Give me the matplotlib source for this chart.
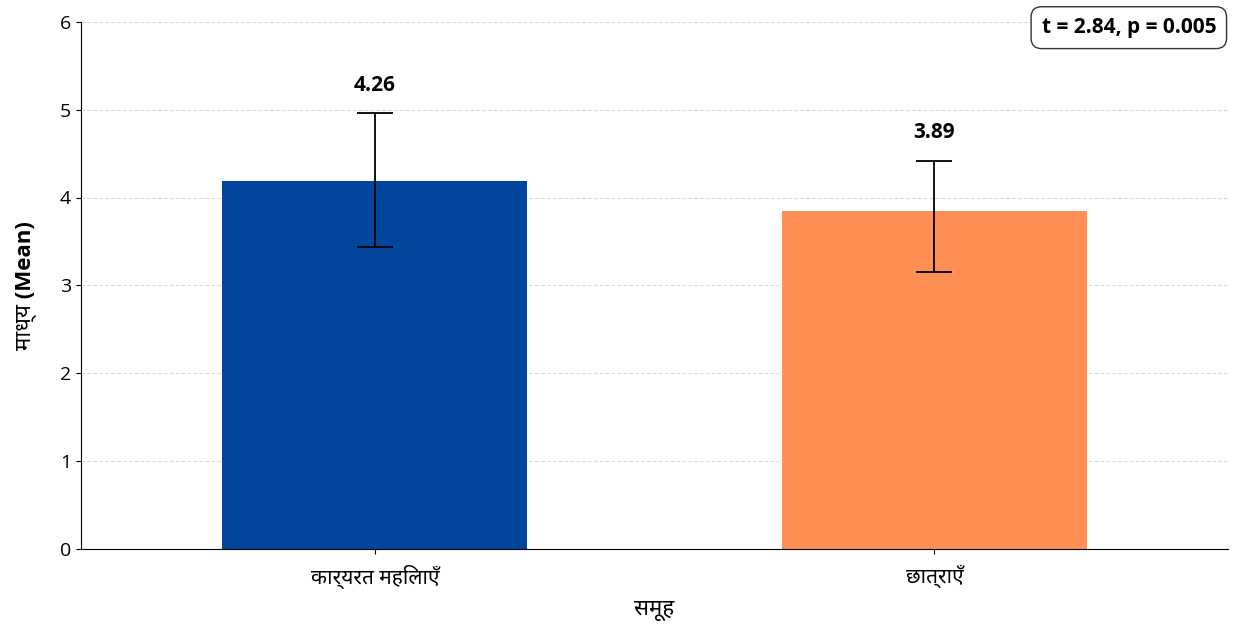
import matplotlib
matplotlib.use("Agg")
import matplotlib.pyplot as plt

plt.rcParams['font.family'] = ['Open Sans', 'Noto Sans', 'DejaVu Sans']

groups = ['कार्यरत महिलाएँ', 'छात्राएँ']
means = [4.19, 3.85]
err_lower = [0.75, 0.70]
err_upper = [0.77, 0.57]
value_labels = ['4.26', '3.89']
colors = ['#02459C', '#FF8F55']
stat_text = 't = 2.84, p = 0.005'

fig, ax = plt.subplots(figsize=(12.4, 6.25), dpi=100)
fig.subplots_adjust(left=0.065, right=0.99, top=0.965, bottom=0.122)

x = list(range(len(groups)))
ax.bar(x, means, width=0.545, color=colors, zorder=2)
ax.errorbar(x, means, yerr=[err_lower, err_upper], fmt='none', ecolor='black',
            elinewidth=1.3, capsize=13, capthick=1.3, zorder=3)
for xi, m, eu, lab in zip(x, means, err_upper, value_labels):
    ax.text(xi, m + eu + 0.2, lab, ha='center', va='bottom', fontsize=15, fontweight='bold')

ax.set_xlim(-0.526, 1.524)
ax.set_ylim(0, 6)
ax.set_xticks(x)
ax.set_xticklabels(groups, fontsize=15)
ax.tick_params(axis='x', pad=8)
ax.tick_params(axis='y', labelsize=14)
ax.set_ylabel('माध्य (Mean)', fontsize=16, fontweight='bold', labelpad=16)
ax.set_xlabel('समूह', fontsize=16, fontweight='bold', labelpad=8)
ax.yaxis.grid(True, linestyle='--', color='#cccccc', alpha=0.7, zorder=0)
ax.set_axisbelow(True)
ax.spines['top'].set_visible(False)
ax.spines['right'].set_visible(False)

ax.text(0.99, 0.989, stat_text, transform=ax.transAxes, ha='right', va='center',
        fontsize=15, fontweight='bold',
        bbox=dict(boxstyle='round,pad=0.5', facecolor='white', edgecolor='#333333'))

fig.savefig('out.png')
